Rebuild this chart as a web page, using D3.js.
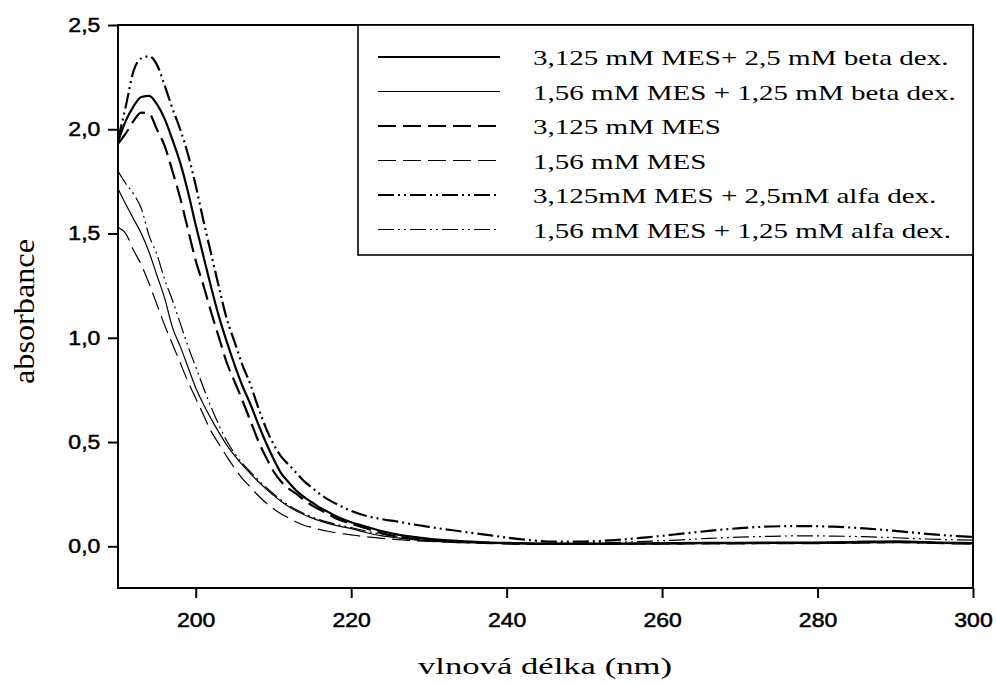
<!DOCTYPE html>
<html>
<head>
<meta charset="utf-8">
<script src="https://cdn.jsdelivr.net/npm/d3@7"></script>
<style>
  body { margin: 0; background: #fff; }
  text { fill: #000; }
</style>
</head>
<body>
<svg id="chart" width="996" height="684"></svg>
<script>
// wavelength grid (nm)
const wavelengths = [190, 191, 192, 193, 194, 195, 196, 197, 198, 199, 200, 201, 202, 203, 204,
  205, 206, 207, 208, 209, 210, 211, 212, 213, 214, 215, 216, 217, 218, 220, 222, 224, 226,
  228, 230, 234, 238, 242, 246, 250, 254, 258, 262, 266, 270, 274, 278, 282, 286, 290, 294,
  298, 300];

// 3,125 mM MES + 2,5 mM beta dex.
const mes3125Beta = [1.94, 2.04, 2.11, 2.155, 2.16, 2.12, 2.05, 1.95, 1.84, 1.70, 1.54, 1.39, 1.24,
  1.10, 0.98, 0.87, 0.77, 0.685, 0.59, 0.50, 0.42, 0.35, 0.305, 0.265, 0.235, 0.21, 0.185, 0.165,
  0.145, 0.115, 0.093, 0.072, 0.056, 0.045, 0.036, 0.025, 0.018, 0.015, 0.013, 0.013, 0.013,
  0.014, 0.015, 0.016, 0.017, 0.018, 0.018, 0.019, 0.022, 0.024, 0.02, 0.016, 0.015];

// 1,56 mM MES + 1,25 mM beta dex.
const mes156Beta = [1.715, 1.64, 1.57, 1.50, 1.41, 1.30, 1.19, 1.05, 0.96, 0.86, 0.76, 0.68, 0.61,
  0.545, 0.485, 0.435, 0.39, 0.35, 0.312, 0.277, 0.245, 0.215, 0.19, 0.168, 0.15, 0.135, 0.122,
  0.11, 0.10, 0.085, 0.065, 0.05, 0.04, 0.032, 0.027, 0.02, 0.016, 0.013, 0.012, 0.012, 0.012,
  0.013, 0.014, 0.015, 0.016, 0.017, 0.018, 0.018, 0.02, 0.021, 0.018, 0.015, 0.014];

// 3,125 mM MES
const mes3125 = [1.93, 1.98, 2.04, 2.08, 2.075, 2.00, 1.92, 1.80, 1.67, 1.52, 1.37, 1.25, 1.12,
  1.00, 0.88, 0.79, 0.70, 0.605, 0.51, 0.43, 0.36, 0.31, 0.275, 0.25, 0.22, 0.195, 0.175, 0.155,
  0.135, 0.108, 0.085, 0.062, 0.046, 0.036, 0.028, 0.02, 0.015, 0.012, 0.012, 0.012, 0.012,
  0.013, 0.013, 0.014, 0.014, 0.015, 0.015, 0.016, 0.018, 0.02, 0.017, 0.014, 0.013];

// 1,56 mM MES
const mes156 = [1.53, 1.50, 1.42, 1.35, 1.26, 1.16, 1.06, 0.97, 0.88, 0.79, 0.71, 0.63, 0.55,
  0.49, 0.43, 0.375, 0.325, 0.285, 0.245, 0.21, 0.18, 0.155, 0.135, 0.115, 0.10, 0.09, 0.08,
  0.072, 0.065, 0.055, 0.045, 0.038, 0.032, 0.027, 0.023, 0.018, 0.014, 0.012, 0.011, 0.011,
  0.011, 0.012, 0.012, 0.013, 0.013, 0.014, 0.014, 0.015, 0.016, 0.018, 0.016, 0.013, 0.012];

// 3,125mM MES + 2,5mM alfa dex.
const mes3125Alfa = [1.95, 2.11, 2.28, 2.34, 2.35, 2.31, 2.21, 2.10, 2.00, 1.88, 1.73, 1.56, 1.40,
  1.24, 1.09, 0.98, 0.87, 0.78, 0.67, 0.57, 0.49, 0.43, 0.39, 0.35, 0.31, 0.28, 0.25, 0.225,
  0.205, 0.17, 0.145, 0.13, 0.118, 0.105, 0.093, 0.072, 0.052, 0.033, 0.022, 0.023, 0.03, 0.043,
  0.058, 0.074, 0.087, 0.095, 0.097, 0.094, 0.086, 0.074, 0.06, 0.049, 0.045];

// 1,56 mM MES + 1,25 mM alfa dex.
const mes156Alfa = [1.80, 1.74, 1.69, 1.62, 1.49, 1.40, 1.28, 1.18, 1.07, 0.96, 0.86, 0.76, 0.665,
  0.58, 0.505, 0.445, 0.398, 0.358, 0.32, 0.285, 0.252, 0.222, 0.196, 0.174, 0.156, 0.14, 0.127,
  0.116, 0.106, 0.09, 0.072, 0.058, 0.047, 0.038, 0.032, 0.024, 0.018, 0.014, 0.013, 0.015,
  0.018, 0.024, 0.03, 0.038, 0.044, 0.048, 0.05, 0.049, 0.046, 0.041, 0.035, 0.031, 0.03];

const seriesLabels = [
  '3,125 mM MES+ 2,5 mM beta dex.',
  '1,56 mM MES + 1,25 mM beta dex.',
  '3,125 mM MES',
  '1,56 mM MES',
  '3,125mM MES + 2,5mM alfa dex.',
  '1,56 mM MES + 1,25 mM alfa dex.',
];
const seriesValues = [mes3125Beta, mes156Beta, mes3125, mes156, mes3125Alfa, mes156Alfa];

const xTicks = [200, 220, 240, 260, 280, 300];
const yTicks = [0, 0.5, 1.0, 1.5, 2.0, 2.5];

// line looks, same order as the labels
const lineStyles = [
  { width: 2.2, dash: null },
  { width: 1.2, dash: null },
  { width: 2.2, dash: '18,7' },
  { width: 1.2, dash: '18,7' },
  { width: 2.2, dash: '16,4,2,4,2,4' },
  { width: 1.2, dash: '16,4,2,4,2,4' },
];

const svg = d3.select('#chart');
svg.append('rect').attr('width', 996).attr('height', 684).attr('fill', '#fff');

const x = d3.scaleLinear().domain([190, 300]).range([118, 973]);
const y = d3.scaleLinear().domain([-0.2, 2.5]).range([588, 25]);

const tickFont = '"Liberation Sans", Arial, sans-serif';
const serif = '"Liberation Serif", "Times New Roman", serif';

// axes
const xAxis = svg.append('g')
  .attr('transform', 'translate(0,588)')
  .call(d3.axisBottom(x).tickValues(xTicks).tickSize(10).tickPadding(15).tickFormat(d3.format('d')));
const yAxis = svg.append('g')
  .attr('transform', 'translate(118,0)')
  .call(d3.axisLeft(y).tickValues(yTicks).tickSize(10).tickPadding(15)
    .tickFormat((d) => d.toFixed(1).replace('.', ',')));

[xAxis, yAxis].forEach((g) => {
  g.select('.domain').remove();
  g.selectAll('.tick line').attr('stroke', '#000').attr('stroke-width', 2);
  g.selectAll('.tick text')
    .attr('font-family', tickFont)
    .attr('font-size', 19.5)
    .attr('fill', '#000')
    .attr('stroke', '#000')
    .attr('stroke-width', 0.5);
});
xAxis.selectAll('.tick text').attr('transform', 'scale(1.18,1)');
yAxis.selectAll('.tick text').attr('x', -15).attr('transform', 'scale(1.18,1)');

// clip to the plot box
svg.append('clipPath').attr('id', 'plot-clip')
  .append('rect').attr('x', 118).attr('y', 25).attr('width', 855).attr('height', 563);

const line = d3.line()
  .x((d) => x(d[0]))
  .y((d) => y(d[1]))
  .curve(d3.curveMonotoneX);

svg.append('g')
  .attr('clip-path', 'url(#plot-clip)')
  .selectAll('path')
  .data(seriesValues)
  .join('path')
  .attr('d', (vals) => line(wavelengths.map((w, i) => [w, vals[i]])))
  .attr('fill', 'none')
  .attr('stroke', '#000')
  .attr('stroke-width', (d, i) => lineStyles[i].width)
  .attr('stroke-dasharray', (d, i) => lineStyles[i].dash);

// frame
svg.append('rect')
  .attr('x', 118).attr('y', 25).attr('width', 855).attr('height', 563)
  .attr('fill', 'none').attr('stroke', '#000').attr('stroke-width', 2);

// legend
const legend = svg.append('g');
legend.append('rect')
  .attr('x', 358).attr('y', 25).attr('width', 615).attr('height', 230)
  .attr('fill', '#fff').attr('stroke', '#000').attr('stroke-width', 1.6);

const rows = legend.selectAll('g.row')
  .data(seriesLabels)
  .join('g')
  .attr('class', 'row')
  .attr('transform', (d, i) => `translate(0,${57 + i * 34.5})`);

rows.append('line')
  .attr('x1', 378).attr('x2', 500)
  .attr('stroke', '#000')
  .attr('stroke-width', (d, i) => lineStyles[i].width)
  .attr('stroke-dasharray', (d, i) => lineStyles[i].dash);

rows.append('text')
  .attr('transform', 'translate(533,8) scale(1.32,1)')
  .attr('font-family', serif)
  .attr('font-size', 22)
  .text((d) => d);

// axis titles
svg.append('text')
  .attr('x', 418).attr('y', 674)
  .attr('font-family', serif)
  .attr('font-size', 24)
  .attr('textLength', 254)
  .attr('lengthAdjust', 'spacingAndGlyphs')
  .text('vlnová délka (nm)');

svg.append('text')
  .attr('transform', 'translate(34,384) rotate(-90)')
  .attr('font-family', serif)
  .attr('font-size', 29)
  .attr('textLength', 145)
  .attr('lengthAdjust', 'spacingAndGlyphs')
  .text('absorbance');
</script>
</body>
</html>
